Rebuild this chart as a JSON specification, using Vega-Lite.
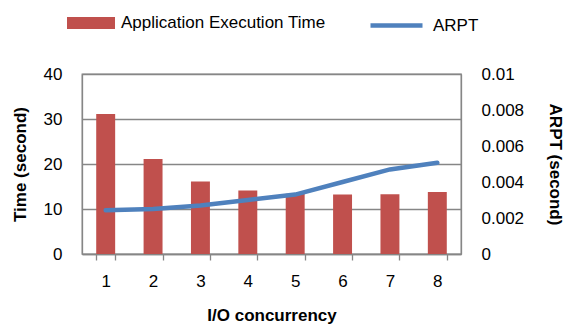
{
  "$schema": "https://vega.github.io/schema/vega-lite/v6.json",
  "autosize": {"type": "none"},
  "width": 379,
  "height": 180,
  "padding": {"left": 82, "top": 74, "right": 103, "bottom": 70},
  "background": "white",
  "config": {
    "font": "Liberation Sans",
    "view": {"stroke": "#868686", "strokeWidth": 1.3},
    "axis": {
      "labelFont": "Liberation Sans",
      "titleFont": "Liberation Sans",
      "labelFontSize": 17,
      "titleFontSize": 17,
      "titleFontWeight": "bold",
      "labelColor": "#000000",
      "titleColor": "#000000",
      "domainColor": "#868686",
      "domainWidth": 1.3,
      "tickColor": "#868686",
      "tickWidth": 1.3,
      "gridColor": "#868686",
      "gridWidth": 1.3
    },
    "legend": {
      "labelFont": "Liberation Sans",
      "labelFontSize": 17,
      "labelColor": "#000000",
      "labelLimit": 0
    }
  },
  "data": {
    "values": [
      {"concurrency": "1", "time": 31.1, "arpt": 0.00243},
      {"concurrency": "2", "time": 21.1, "arpt": 0.0025},
      {"concurrency": "3", "time": 16.1, "arpt": 0.0027},
      {"concurrency": "4", "time": 14.1, "arpt": 0.0030},
      {"concurrency": "5", "time": 13.4, "arpt": 0.0033},
      {"concurrency": "6", "time": 13.2, "arpt": 0.0040},
      {"concurrency": "7", "time": 13.3, "arpt": 0.0047},
      {"concurrency": "8", "time": 13.8, "arpt": 0.00507}
    ]
  },
  "encoding": {
    "x": {
      "field": "concurrency",
      "type": "ordinal",
      "sort": null,
      "scale": {"paddingInner": 0.6, "paddingOuter": 0.3},
      "axis": {
        "title": "I/O concurrency",
        "labelAngle": 0,
        "tickBand": "extent",
        "tickSize": 6,
        "labelPadding": 13,
        "titlePadding": 18
      }
    }
  },
  "layer": [
    {
      "mark": {"type": "bar", "color": "#C0504D"},
      "encoding": {
        "y": {
          "field": "time",
          "type": "quantitative",
          "scale": {"domain": [0, 40], "nice": false},
          "axis": {
            "title": "Time  (second)",
            "values": [0, 10, 20, 30, 40],
            "grid": true,
            "ticks": false,
            "labelPadding": 20,
            "titlePadding": 14
          }
        },
        "fill": {
          "datum": "Application Execution Time",
          "scale": {"range": ["#C0504D"]},
          "legend": {
            "title": null,
            "orient": "none",
            "legendX": -15,
            "legendY": -75,
            "symbolType": "M-1,-0.25H1V0.25H-1Z",
            "symbolSize": 2304,
            "symbolOpacity": 1,
            "symbolStrokeWidth": 0,
            "labelOffset": 6
          }
        }
      }
    },
    {
      "mark": {"type": "line", "color": "#4F81BD", "strokeWidth": 4.5, "strokeCap": "round"},
      "encoding": {
        "y": {
          "field": "arpt",
          "type": "quantitative",
          "scale": {"domain": [0, 0.01], "nice": false},
          "axis": {
            "orient": "right",
            "title": "ARPT (second)",
            "values": [0, 0.002, 0.004, 0.006, 0.008, 0.01],
            "format": "~g",
            "grid": false,
            "ticks": false,
            "labelPadding": 20,
            "titlePadding": 22
          }
        },
        "stroke": {
          "datum": "ARPT",
          "scale": {"range": ["#4F81BD"]},
          "legend": {
            "title": null,
            "orient": "none",
            "legendX": 286,
            "legendY": -77,
            "symbolType": "stroke",
            "symbolSize": 2704,
            "symbolStrokeWidth": 4.5,
            "labelOffset": 8
          }
        }
      }
    }
  ],
  "resolve": {"scale": {"y": "independent"}}
}
